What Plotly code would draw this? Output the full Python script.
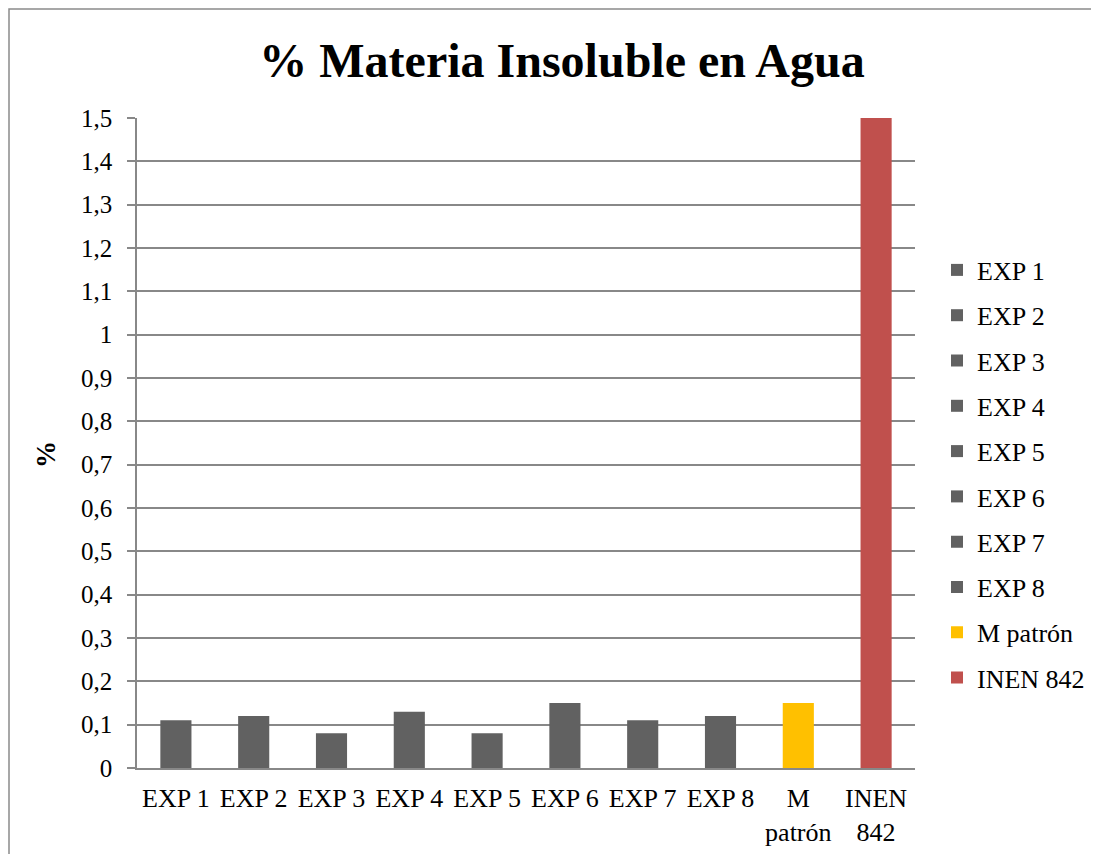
import plotly.graph_objects as go

categories = ["EXP 1", "EXP 2", "EXP 3", "EXP 4", "EXP 5", "EXP 6", "EXP 7", "EXP 8", "M<br>patrón", "INEN<br>842"]
legend_names = ["EXP 1", "EXP 2", "EXP 3", "EXP 4", "EXP 5", "EXP 6", "EXP 7", "EXP 8", "M patrón", "INEN 842"]
values = [0.11, 0.12, 0.08, 0.13, 0.08, 0.15, 0.11, 0.12, 0.15, 1.5]
colors = ["#616161"] * 8 + ["#FFC000", "#C0504D"]

FONT = "Liberation Serif, Times New Roman, serif"
GRID = "#888888"

fig = go.Figure()
for cat, name, val, col in zip(categories, legend_names, values, colors):
    fig.add_trace(go.Bar(x=[cat], y=[val], name=name, marker_color=col,
                         legendgroup=name, marker_line_width=0))

OFF = 8  # page offset of the figure in the screenshot
W, H = 1099, 854
L, T = 137 - OFF, 118 - OFF
R = W - (915 - OFF)
B = H - (768 - OFF)
pw, ph = W - L - R, H - T - B

def px_x(p):
    return (p - OFF - L) / pw

def px_y(p):
    return (H - B - (p - OFF)) / ph

fig.update_layout(
    width=W, height=H,
    margin=dict(l=L, r=R, t=T, b=B),
    paper_bgcolor="white", plot_bgcolor="white",
    separators=",.",
    font=dict(family=FONT, size=24, color="black"),
    barmode="overlay", bargap=0.6,
    title=dict(text="<b>% Materia Insoluble en Agua</b>", x=(562 - OFF) / W, xref="container",
               xanchor="center", y=1 - (60 - OFF) / H, yref="container", yanchor="middle",
               font=dict(family=FONT, size=48, color="black")),
    legend=dict(x=px_x(937), xanchor="left", y=px_y(474), yanchor="middle",
                font=dict(family=FONT, size=26, color="black"),
                tracegroupgap=8.5, bgcolor="rgba(0,0,0,0)"),
    xaxis=dict(type="category", categoryorder="array", categoryarray=categories,
               showline=True, linecolor=GRID, linewidth=1.5, ticks="",
               showgrid=False, ticklabelstandoff=6,
               tickfont=dict(family=FONT, size=26, color="black")),
    yaxis=dict(range=[0, 1.5], dtick=0.1, tick0=0, showgrid=True, gridcolor=GRID, gridwidth=1.5,
               showline=True, linecolor=GRID, linewidth=1.5, ticks="outside", ticklen=8,
               tickcolor=GRID, tickwidth=1.5, zeroline=False, ticklabelstandoff=10,
               tickfont=dict(family=FONT, size=25, color="black")),
    annotations=[dict(text="<b>%</b>", x=px_x(46), y=px_y(455), xref="paper", yref="paper",
                      xanchor="center", yanchor="middle",
                      textangle=-90, showarrow=False, font=dict(family=FONT, size=27, color="black"))],
    shapes=[dict(type="rect", xref="paper", yref="paper", x0=px_x(9), x1=px_x(1200),
                 y0=px_y(950), y1=px_y(9), line=dict(color="#8a8a8a", width=1.5),
                 fillcolor="rgba(0,0,0,0)", layer="below")],
)

fig.write_html("out.html")
